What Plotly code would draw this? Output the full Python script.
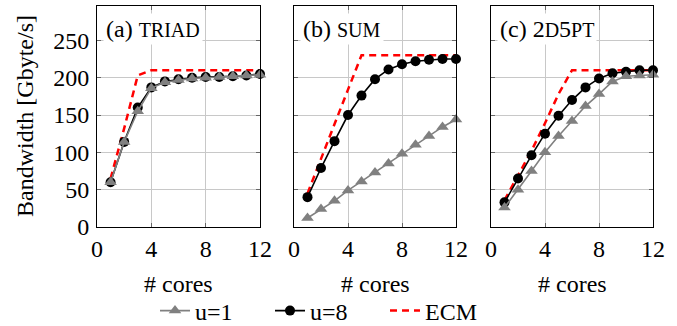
import plotly.graph_objects as go

W, H = 677, 326

cores = list(range(1, 13))
x_ticks = [0, 4, 8, 12]
y_ticks = [0, 50, 100, 150, 200, 250]

panel_titles = ["(a) <span style='font-size:20px'>TRIAD</span>",
                "(b) <span style='font-size:20px'>SUM</span>",
                "(c) 2<span style='font-size:20px'>D</span>5<span style='font-size:20px'>PT</span>"]

triad_u1 = [60, 114, 155, 186, 194, 197, 199, 200, 201, 202, 203, 204]
triad_u8 = [60, 114, 160, 187, 195, 198, 200, 201, 201, 202, 203, 205]
triad_ecm = [65, 132, 203, 210, 210, 210, 210, 210, 210, 210, 210, 210]

sum_u1 = [12, 24, 35, 49, 61, 73, 85, 98, 110, 122, 134, 144]
sum_u8 = [40, 79, 115, 150, 176, 198, 211, 218, 222, 224, 225, 225]
sum_ecm = [45, 92, 138, 184, 230, 230, 230, 230, 230, 230, 230, 230]

d5pt_u1 = [26, 50, 75, 100, 122, 142, 162, 178, 195, 202, 203, 204]
d5pt_u8 = [33, 65, 96, 125, 149, 170, 187, 199, 206, 208, 210, 210]
d5pt_ecm = [36, 68, 102, 139, 178, 210, 210, 210, 210, 210, 210, 210]

series = [(triad_u1, triad_u8, triad_ecm),
          (sum_u1, sum_u8, sum_ecm),
          (d5pt_u1, d5pt_u8, d5pt_ecm)]

FONT = "Liberation Serif, Times New Roman, serif"
FS = 24

x_px = [(97, 260), (294, 456), (491, 653)]
y_dom = [1 - 227 / H, 1 - 6 / H]

fig = go.Figure()

for i, (u1, u8, ecm) in enumerate(series):
    ax = "" if i == 0 else str(i + 1)
    first = i == 0
    fig.add_trace(go.Scatter(x=cores, y=ecm, mode="lines", name="ECM",
                             line=dict(color="#ff0000", width=2.5, dash="7px,5px"),
                             xaxis="x" + ax, yaxis="y" + ax, showlegend=first,
                             legendrank=3, cliponaxis=False))
    fig.add_trace(go.Scatter(x=cores, y=u8, mode="lines+markers", name="u=8",
                             line=dict(color="black", width=1.6),
                             marker=dict(symbol="circle", size=10, color="black"),
                             xaxis="x" + ax, yaxis="y" + ax, showlegend=first,
                             legendrank=2, cliponaxis=False))
    fig.add_trace(go.Scatter(x=cores, y=u1, mode="lines+markers", name="u=1",
                             line=dict(color="#808080", width=1.6),
                             marker=dict(symbol="triangle-up", size=11, color="#808080"),
                             xaxis="x" + ax, yaxis="y" + ax, showlegend=first,
                             legendrank=1, cliponaxis=False))

layout = dict(
    width=W, height=H,
    margin=dict(l=0, r=0, t=0, b=0, autoexpand=False),
    paper_bgcolor="white", plot_bgcolor="white",
    font=dict(family=FONT, size=FS, color="black"),
    showlegend=True,
    legend=dict(orientation="h", x=155 / W, xanchor="left", y=1 - 311 / H, yanchor="middle",
                font=dict(family=FONT, size=FS), bgcolor="rgba(0,0,0,0)",
                entrywidth=70, entrywidthmode="pixels", tracegroupgap=0),
)

annotations = []
for i in range(3):
    ax = "" if i == 0 else str(i + 1)
    x0, x1 = x_px[i]
    layout["xaxis" + ax] = dict(
        domain=[x0 / W, x1 / W], range=[0, 12], tickvals=x_ticks,
        showgrid=True, gridcolor="#c8c8c8", gridwidth=1,
        showline=True, linecolor="black", linewidth=1, mirror="ticks",
        ticks="inside", ticklen=4, tickcolor="#666", zeroline=False,
        tickfont=dict(family=FONT, size=FS), anchor="y" + ax, automargin=False,
    )
    layout["yaxis" + ax] = dict(
        domain=y_dom, range=[0, 296], tickvals=y_ticks,
        showgrid=True, gridcolor="#c8c8c8", gridwidth=1,
        showline=True, linecolor="black", linewidth=1, mirror="ticks",
        ticks="inside", ticklen=4, tickcolor="#666", zeroline=False,
        showticklabels=(i == 0), ticklabelstandoff=2,
        tickfont=dict(family=FONT, size=FS), anchor="x" + ax, automargin=False,
    )
    annotations.append(dict(text=panel_titles[i], xref="paper", yref="paper",
                            x=(x0 + 6) / W, y=1 - 29 / H, xanchor="left", yanchor="middle",
                            showarrow=False, bgcolor="white", borderpad=2,
                            font=dict(family=FONT, size=FS)))
    annotations.append(dict(text="# cores", xref="paper", yref="paper",
                            x=(x0 + x1) / 2 / W, y=1 - 284 / H, xanchor="center", yanchor="middle",
                            showarrow=False, font=dict(family=FONT, size=FS)))

annotations.append(dict(text="Bandwidth [Gbyte/s]", xref="paper", yref="paper",
                        x=25 / W, y=1 - 116 / H, xanchor="center", yanchor="middle",
                        textangle=-90, showarrow=False, font=dict(family=FONT, size=FS)))
layout["annotations"] = annotations

fig.update_layout(**layout)
fig.write_html("out.html", config={"displayModeBar": False},
               post_script="document.body.style.margin='0';document.body.style.overflow='hidden';")
